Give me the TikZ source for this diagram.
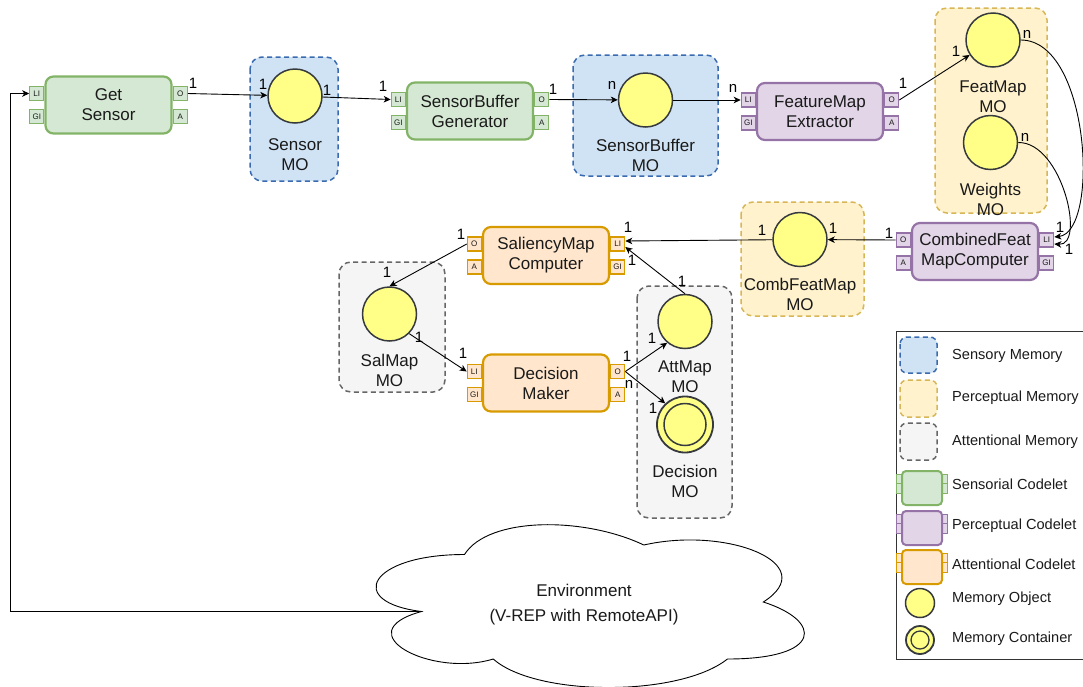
\documentclass[tikz,border=0pt]{standalone}
\usepackage{fontspec}
\setmainfont{Liberation Sans}
\usetikzlibrary{arrows.meta,calc}

\definecolor{gfill}{HTML}{D5E8D4}\definecolor{gline}{HTML}{82B366}
\definecolor{pfill}{HTML}{E1D5E7}\definecolor{pline}{HTML}{9673A6}
\definecolor{ofill}{HTML}{FFE6CC}\definecolor{oline}{HTML}{D79B00}
\definecolor{sfill}{HTML}{D0E3F4}\definecolor{sline}{HTML}{3A6BB0}
\definecolor{yfill}{HTML}{FFF2CC}\definecolor{yline}{HTML}{D6B656}
\definecolor{afill}{HTML}{F5F5F5}\definecolor{aline}{HTML}{666666}
\definecolor{mofill}{HTML}{FFFF88}\definecolor{moline}{HTML}{36393D}
\definecolor{txt}{HTML}{1A1A1A}

\tikzset{
  sens/.style={draw=gline, fill=gfill},
  perc/.style={draw=pline, fill=pfill},
  attn/.style={draw=oline, fill=ofill},
  codelet/.style={line width=2.2pt, rounded corners=8pt, minimum width=126pt,
    minimum height=57pt, align=center, inner sep=0pt, text=txt,
    font=\fontsize{17}{20}\selectfont},
  port/.style={line width=1.2pt, minimum width=14pt, minimum height=14pt,
    inner sep=0pt, text=txt, font=\fontsize{8}{8}\selectfont},
  memobj/.style={circle, draw=moline, fill=mofill, line width=1.5pt,
    minimum size=54pt, inner sep=0pt},
  memgroup/.style={line width=1.5pt, dash pattern=on 5pt off 3.5pt, rounded corners=12pt},
  molabel/.style={align=center, text=txt, font=\fontsize{17}{20}\selectfont},
  mult/.style={inner sep=0pt, font=\fontsize{15}{15}\selectfont},
  conn/.style={line width=0.9pt, -{Stealth[length=7pt,width=6.5pt,inset=2pt]}},
  legtext/.style={anchor=west, inner sep=0pt, text=txt, font=\fontsize{14.6}{15}\selectfont},
}

% codelet body with two ports on each side
% #1 name, #2 x, #3 y, #4 colour style, #5 text, #6-#9 port labels (left top, left bottom, right top, right bottom)
\newcommand\codeletbox[9]{%
  \node[codelet,#4] (#1) at (#2,#3) {#5};
  \node[port,#4,anchor=east] (#1-#6) at ([yshift=11.5pt]#1.west) {#6};
  \node[port,#4,anchor=east] (#1-#7) at ([yshift=-11.5pt]#1.west) {#7};
  \node[port,#4,anchor=west] (#1-#8) at ([yshift=11.5pt]#1.east) {#8};
  \node[port,#4,anchor=west] (#1-#9) at ([yshift=-11.5pt]#1.east) {#9};
}

% small codelet icon for the key
\newcommand\keycodelet[2]{%
  \draw[#2, line width=1pt] (896.5,{#1+3}) rectangle (902,{#1+12.5});
  \draw[#2, line width=1pt] (896.5,{#1+12.5}) rectangle (902,{#1+22});
  \draw[#2, line width=1pt] (942,{#1+3}) rectangle (947.5,{#1+12.5});
  \draw[#2, line width=1pt] (942,{#1+12.5}) rectangle (947.5,{#1+22});
  \draw[#2, line width=2pt, rounded corners=4pt] (902,#1) rectangle (942,{#1+34});
}

\begin{document}
\begin{tikzpicture}[x=1pt,y=-1pt]
\useasboundingbox (0,0) rectangle (1083,686);

% ---------- memory groups ----------
\draw[memgroup, draw=sline, fill=sfill] (250,57) rectangle (338,181);
\draw[memgroup, draw=sline, fill=sfill] (573,55) rectangle (718,176);
\draw[memgroup, draw=yline, fill=yfill] (935,8) rectangle (1047,213);
\draw[memgroup, draw=yline, fill=yfill] (741,202) rectangle (864,316);
\draw[memgroup, draw=aline, fill=afill] (339,262) rectangle (445,392);
\draw[memgroup, draw=aline, fill=afill] (637,286) rectangle (732,518);

% ---------- memory objects ----------
\node[memobj] (sen)  at (295,96) {};
\node[molabel] (senl) at (295,155) {Sensor\\MO};
\node[memobj] (sbuf) at (645.5,100) {};
\node[molabel] (sbufl) at (645.5,155.5) {SensorBuffer\\MO};
\node[memobj] (fmap) at (993,40) {};
\node[molabel] (fmapl) at (993,96.5) {FeatMap\\MO};
\node[memobj] (wts)  at (990.5,142.5) {};
\node[molabel] (wtsl) at (990.5,199) {Weights\\MO};
\node[memobj] (comb) at (800,239.5) {};
\node[molabel] (combl) at (800,294) {CombFeatMap\\MO};
\node[memobj] (sal)  at (389.5,314) {};
\node[molabel] (sall) at (389.5,370) {SalMap\\MO};
\node[memobj] (att)  at (685,321.5) {};
\node[molabel] (attl) at (685,377) {AttMap\\MO};
\node[memobj, minimum size=56pt, line width=1.8pt] (dec) at (685,424.5) {};
\draw[moline, line width=1.5pt] (dec.center) circle (21pt);
\node[molabel] (decl) at (685,481) {Decision\\MO};

% ---------- codelets ----------
\codeletbox{gs}{108.5}{105}{sens}{Get\\Sensor}{LI}{GI}{O}{A}
\codeletbox{sb}{470}{111}{sens}{SensorBuffer\\Generator}{LI}{GI}{O}{A}
\codeletbox{fm}{820}{111.5}{perc}{FeatureMap\\Extractor}{LI}{GI}{O}{A}
\codeletbox{cf}{975}{251.5}{perc}{CombinedFeat\\MapComputer}{O}{A}{LI}{GI}
\codeletbox{sm}{546}{255.5}{attn}{SaliencyMap\\Computer}{O}{A}{LI}{GI}
\codeletbox{dm}{546}{383}{attn}{Decision\\Maker}{LI}{GI}{O}{A}

% ---------- environment ----------
\draw[line width=0.9pt, fill=white]
  (464.5,554.5)
  .. controls (368.9,554.5) and (345,602) .. (421.5,611.5)
  .. controls (345,632.4) and (431,678) .. (493.2,659)
  .. controls (536.2,697) and (679.6,697) .. (727.4,659)
  .. controls (823,659) and (823,621) .. (763.3,602)
  .. controls (823,564) and (727.4,526) .. (643.8,545)
  .. controls (584,516.5) and (488.4,516.5) .. (464.5,554.5) -- cycle;
\node[molabel, font=\fontsize{17}{25}\selectfont] (env) at (584,605) {Environment\\(V-REP with RemoteAPI)};
\coordinate (envin) at (421.5,611.5);
\coordinate (rail) at (10,0);

% ---------- connectors ----------
\draw[conn] (envin) -| (rail |- gs-LI.west) -- (gs-LI.west);
\draw[conn] (gs-O.east) -- (sen);
\draw[conn] (sen) -- (sb-LI.west);
\draw[conn] (sb-O.east) -- (sbuf);
\draw[conn] (sbuf) -- (fm-LI.west);
\draw[conn] (fm-O.east) -- (fmap);
\draw[conn] (fmap.east) .. controls (1090,40) and (1100,232) .. ([yshift=3pt]cf-LI.east);
\draw[conn] (wts.east) .. controls (1062,142) and (1086,246) .. ([yshift=-4pt]cf-LI.east);
\draw[conn] (cf-O.west) -- (comb);
\draw[conn] (comb) -- ([yshift=3pt]sm-LI.east);
\draw[conn] (att.north) -- ([yshift=-3pt]sm-LI.east);
\draw[conn] (sm-O.west) -- (sal.north);
\draw[conn] (sal.-45) -- (dm-LI.west);
\draw[conn] (dm-O.east) -- (att.230);
\draw[conn] (dm-O.east) -- (dec.133);

% ---------- multiplicities ----------
\node[mult] (m1)  at (193,83)  {1};
\node[mult] (m2)  at (263,84)  {1};
\node[mult] (m3)  at (327,90)  {1};
\node[mult] (m4)  at (383,86)  {1};
\node[mult] (m5)  at (553,89)  {1};
\node[mult] (m6)  at (612,85)  {n};
\node[mult] (m7)  at (733,88)  {n};
\node[mult] (m8)  at (903,83)  {1};
\node[mult] (m9)  at (956,51)  {1};
\node[mult] (m10) at (1027,34) {n};
\node[mult] (m11) at (1025,137) {n};
\node[mult] (m12) at (1060,227) {1};
\node[mult] (m13) at (1069,249) {1};
\node[mult] (m14) at (889,233) {1};
\node[mult] (m15) at (833,228) {1};
\node[mult] (m16) at (762,230) {1};
\node[mult] (m17) at (628,227) {1};
\node[mult] (m18) at (632,260) {1};
\node[mult] (m19) at (682,281) {1};
\node[mult] (m20) at (461,234) {1};
\node[mult] (m21) at (387,272) {1};
\node[mult] (m22) at (419,337) {1};
\node[mult] (m23) at (463,353) {1};
\node[mult] (m24) at (627,356) {1};
\node[mult] (m25) at (652,338) {1};
\node[mult] (m26) at (629,384) {n};
\node[mult] (m27) at (653,408) {1};

% ---------- key ----------
\draw[line width=1pt, draw=black!80] (896,331) rectangle (1095,659);
\draw[memgroup, rounded corners=7pt, draw=sline, fill=sfill] (900,337) rectangle (937,373);
\node[legtext] (k1) at (952,356) {Sensory Memory};
\draw[memgroup, rounded corners=7pt, draw=yline, fill=yfill] (900,380) rectangle (937,417);
\node[legtext] (k2) at (952,398) {Perceptual Memory};
\draw[memgroup, rounded corners=7pt, draw=aline, fill=afill] (900,423) rectangle (937,460);
\node[legtext] (k3) at (952,442) {Attentional Memory};
\keycodelet{471}{sens}
\node[legtext] (k4) at (952,484) {Sensorial Codelet};
\keycodelet{511}{perc}
\node[legtext] (k5) at (952,526) {Perceptual Codelet};
\keycodelet{550}{attn}
\node[legtext] (k6) at (952,564) {Attentional Codelet};
\node[memobj, minimum size=29pt] (k7c) at (920,603) {};
\node[legtext] (k7) at (952,599) {Memory Object};
\node[memobj, minimum size=28pt, line width=1.8pt] (k8c) at (920,640) {};
\draw[moline, line width=1.3pt] (k8c.center) circle (9pt);
\node[legtext] (k8) at (952,639) {Memory Container};
\end{tikzpicture}
\end{document}
